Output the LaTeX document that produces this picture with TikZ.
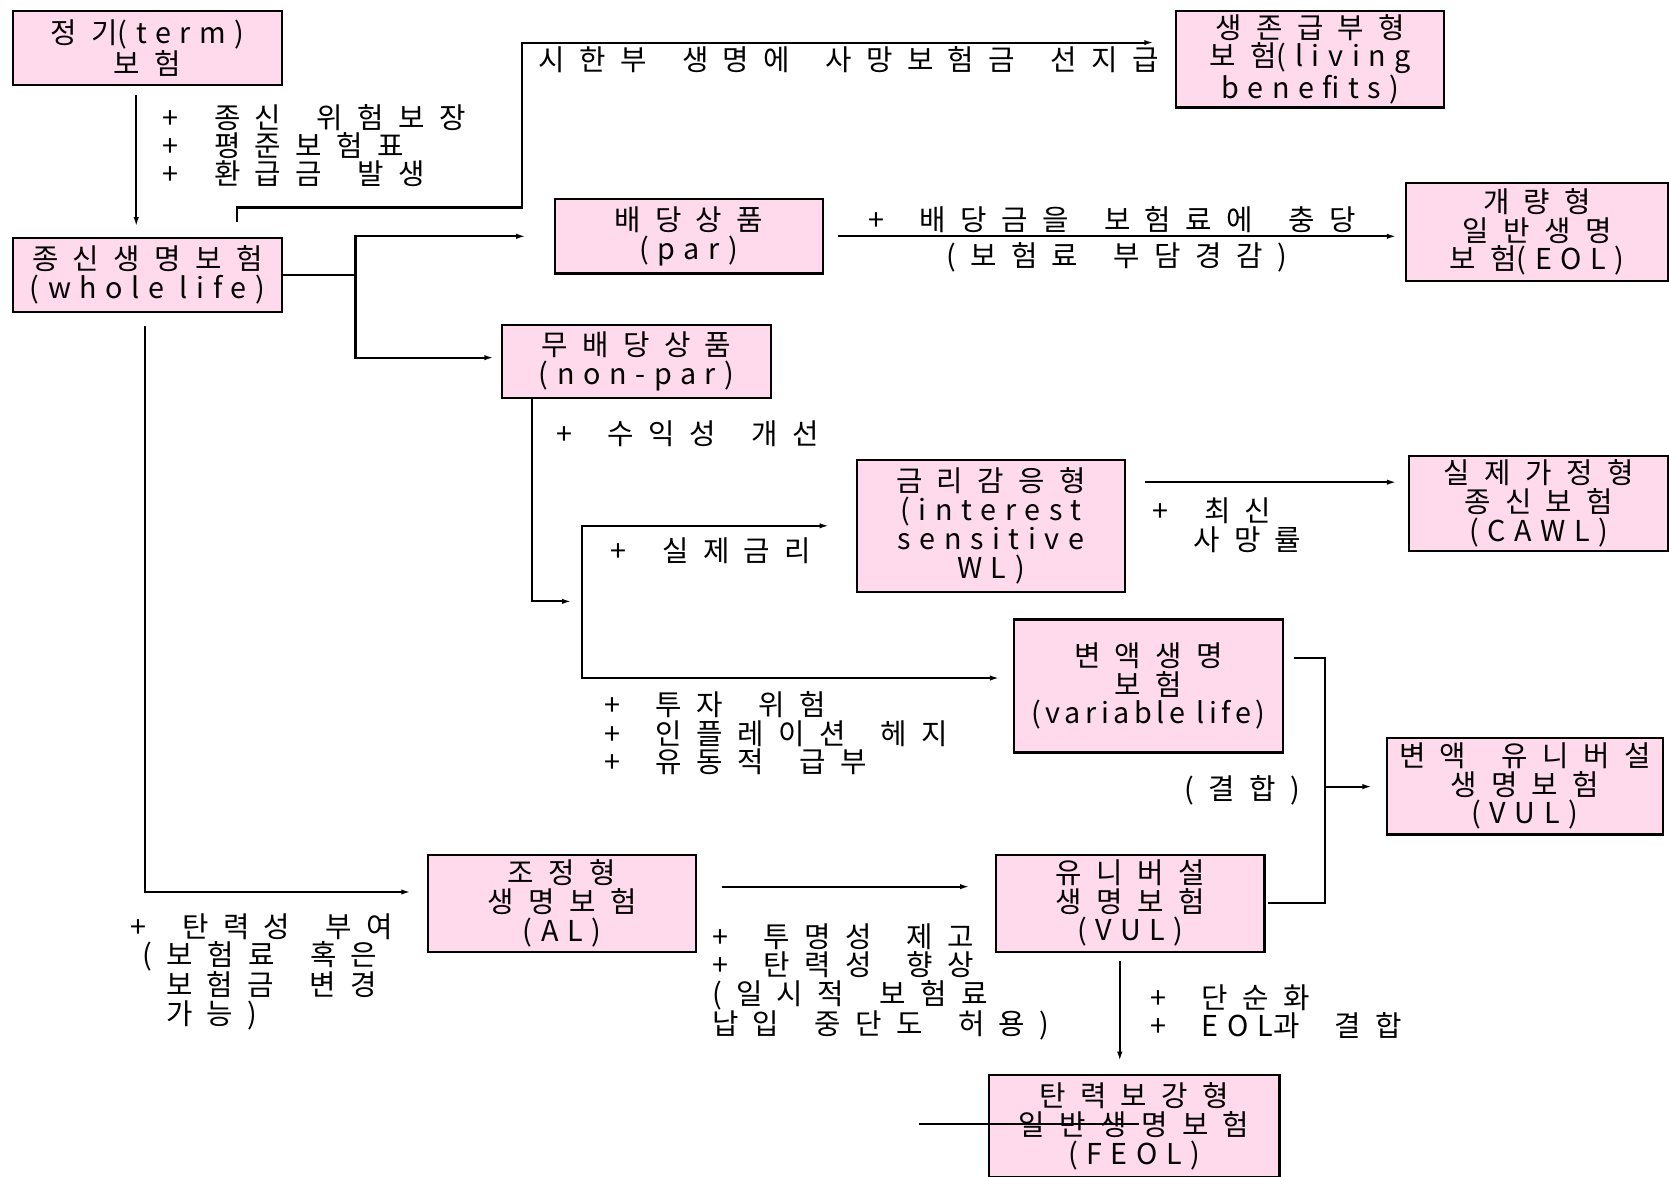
\documentclass[tikz,border=0pt]{standalone}
\usepackage{fontspec}
\setmainfont{Noto Sans CJK KR}[LetterSpace=50, WordSpace=1.7]
\newfontfamily\lat{Noto Sans CJK KR}[LetterSpace=30]
\newfontfamily\latn{Noto Sans CJK KR}[LetterSpace=16]
\usetikzlibrary{arrows.meta,calc}

\definecolor{boxpink}{RGB}{255,218,236}

\tikzset{every picture/.style={line width=2pt}}
\tikzset{
  prod/.style={draw, fill=boxpink, line width=2pt, align=center, inner sep=0pt,
    minimum width=252pt, minimum height=70pt, font=\fontsize{27}{27}\selectfont},
  note/.style={anchor=north west, inner sep=0pt, align=left, font=\fontsize{27}{26.5}\selectfont},
  link/.style={line width=2pt},
  arr/.style={link, -{Latex[length=9pt,width=5pt]}},
}

\begin{document}
\begin{tikzpicture}[x=1pt,y=1pt,yscale=-1]
  \useasboundingbox (0,0) rectangle (1568,1105);

  \node[prod, minimum width=253pt] (term) at (138.5,45) {정기{\lat(term)}\\보험};
  \node[prod, minimum width=253pt, minimum height=69pt] (wl) at (138.5,258.5) {종신생명보험\\{\lat(whole life)}};
  \node[prod, minimum height=91pt] (living) at (1231,55.5) {생존급부형\\보험{\lat(living}\\{\lat benefits)}};
  \node[prod] (par) at (647,222) {배당상품\\{\lat(par)}};
  \node[prod, minimum width=246pt, minimum height=92pt] (eol) at (1444,218) {개량형\\일반생명\\보험{\lat(EOL)}};
  \node[prod, minimum height=69pt] (nonpar) at (598,339.5) {무배당상품\\{\lat(non-par)}};
  \node[prod, minimum height=124pt] (iswl) at (931,494) {금리감응형\\{\lat(interest}\\{\lat sensitive}\\{\lat WL)}};
  \node[prod, minimum width=243pt, minimum height=90pt] (cawl) at (1445.5,473) {실제가정형\\종신보험\\{\lat(CAWL)}};
  \node[prod, minimum height=125pt] (vl) at (1079,644.5) {변액생명\\보험\\{\latn(variable life)}};
  \node[prod, minimum width=259pt, minimum height=91pt] (vul) at (1432.5,738.5) {변액 유니버설\\생명보험\\{\lat(VUL)}};
  \node[prod, minimum height=91pt] (al) at (528,848.5) {조정형\\생명보험\\{\lat(AL)}};
  \node[prod, minimum height=91pt] (ul) at (1062,848.5) {유니버설\\생명보험\\{\lat(VUL)}};
  \node[prod, minimum width=273pt, minimum height=96pt] (feol) at (1065.5,1058) {탄력보강형\\일반생명보험\\{\lat(FEOL)}};

  % connectors
  \draw[arr, shorten <=8pt, shorten >=10pt] ($(term.south)+(-10.5,0)$) -- ($(wl.north)+(-10.5,0)$);
  \draw[arr, shorten >=20pt] ($(wl.north)+(84,-14)$) |- ++(268,-14) |- ($(living.west)+(0,-15.5)$);

  \draw[link] (wl.east) -- ++(68,0) coordinate (wlfork);
  \draw[arr, shorten >=26pt] (wlfork) |- (par.west);
  \draw[arr, shorten >=7pt] (wlfork) |- ($(nonpar.west)+(0,-3.5)$);
  \draw[arr, shorten <=13pt, shorten >=8pt] (par.east) -- (par.east -| eol.west);

  \coordinate (vfork) at (547,565);
  \draw[arr, shorten >=10pt] ($(nonpar.south)+(-98,0)$) |- (vfork);
  \draw[arr, shorten >=25pt] (vfork) |- (iswl.west);
  \draw[arr, shorten >=13pt] (vfork) |- ($(vl.west)+(0,-7.5)$);
  \draw[arr, shorten >=11pt] ($(iswl.east)+(18,-41)$) -- ($(cawl.west)+(0,-20)$);

  \coordinate (join) at (1245,739);
  \draw[link] ($(vl.east)+(10,-26.5)$) -| (join) |- ($(ul.east)+(2,0)$);
  \draw[arr, shorten >=13pt] (join) -- (join -| vul.west);

  \draw[arr, shorten >=15pt] ($(wl.south)+(-2.5,12)$) |- ($(al.west)+(0,-10.5)$);
  \draw[arr, shorten <=23pt, shorten >=24pt] ($(al.east)+(0,-15.5)$) -- ($(ul.west)+(0,-15.5)$);
  \draw[arr, shorten <=8pt, shorten >=12pt] ($(ul.south)+(-10,0)$) -- ($(feol.north)+(-13.5,0)$);
  \draw[link] ($(feol.west)+(-65,-2)$) -- ($(feol.west)+(142,-2)$);

  % notes
  \node[note] (nterm) at (152,97) {+ 종신 위험보장\\+ 평준보험표\\+ 환급금 발생};
  \node[note] (nliving) at (505,43) {시한부 생명에 사망보험금 선지급};
  \node[note] (nparup) at (815,193) {+ 배당금을 보험료에 충당};
  \node[note] (npardn) at (888,227) {(보험료 부담경감)};
  \node[note] (nnonpar) at (522,394) {+ 수익성 개선};
  \node[note] (niswl) at (573,504) {+ 실제금리};
  \node[note] (nvl) at (567,649) {+ 투자 위험\\+ 인플레이션 헤지\\+ 유동적 급부};
  \node[note] (ncawl) at (1082,467) {+ 최신\\\hspace*{38pt}사망률};
  \node[note] (njoin) at (1112,728) {(결합)};
  \node[note] (nal) at (122,857) {+ 탄력성 부여\\\hspace*{11pt}(보험료 혹은\\\hspace*{33pt}보험금 변경\\\hspace*{33pt}가능)};
  \node[note] (nul) at (668,867) {+ 투명성 제고\\+ 탄력성 향상\\(일시적 보험료\\납입 중단도 허용)};
  \node[note] (nfeol) at (1080,924) {+ 단순화\\+ {\lat EOL}과 결합};
\end{tikzpicture}
\end{document}
